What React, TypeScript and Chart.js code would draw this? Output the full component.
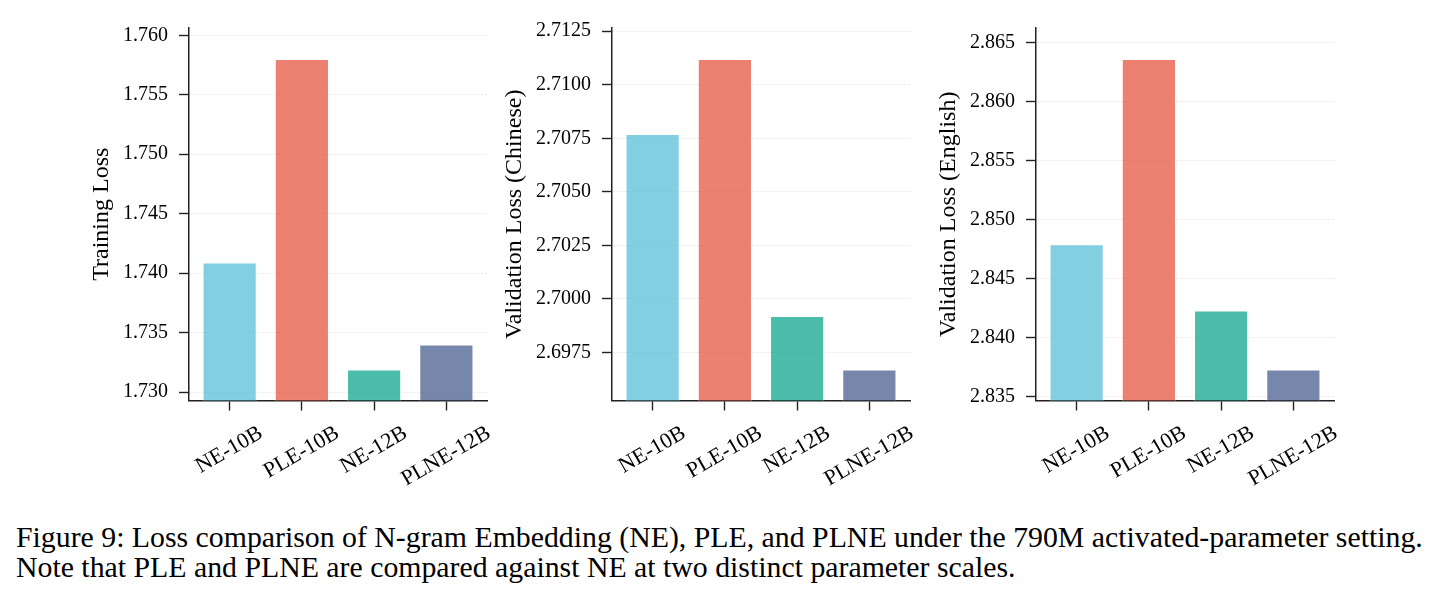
import React, { useEffect, useRef } from "react";
import { Chart, registerables } from "chart.js";

Chart.register(...registerables);

// ---------- data ----------
const categories = ["NE-10B", "PLE-10B", "NE-12B", "PLNE-12B"];

const trainingLoss = [1.7409, 1.758, 1.7319, 1.734];
const valLossChinese = [2.7077, 2.7112, 2.6992, 2.6967];
const valLossEnglish = [2.8479, 2.8636, 2.8423, 2.8373];

const trainingTicks = [1.73, 1.735, 1.74, 1.745, 1.75, 1.755, 1.76];
const chineseTicks = [2.6975, 2.7, 2.7025, 2.705, 2.7075, 2.71, 2.7125];
const englishTicks = [2.835, 2.84, 2.845, 2.85, 2.855, 2.86, 2.865];

const barColors = [
  "rgba(77,187,213,0.7)",
  "rgba(230,75,53,0.7)",
  "rgba(0,160,135,0.7)",
  "rgba(60,84,136,0.7)",
];

const captionLines = [
  "Figure 9: Loss comparison of N-gram Embedding (NE), PLE, and PLNE under the 790M activated-parameter setting.",
  "Note that PLE and PLNE are compared against NE at two distinct parameter scales.",
];

const SERIF = "'Liberation Serif', 'Times New Roman', 'DejaVu Serif', serif";

const CANVAS_W = 440;
const CANVAS_H = 500;
const AXIS_W = 120;
const PLOT_W = 298;
const PLOT_TOP = 28;
const PLOT_BOTTOM = 400.5;

type PanelProps = {
  left: number;
  values: number[];
  ticks: number[];
  decimals: number;
  title: string;
};

function Panel({ left, values, ticks, decimals, title }: PanelProps) {
  const ref = useRef<HTMLCanvasElement>(null);

  useEffect(() => {
    if (!ref.current) return;
    const lo = Math.min(...values);
    const hi = Math.max(...values);
    const r = hi - lo;

    const labelPlugin = {
      id: "customLabels",
      afterDraw(chart: any) {
        const ctx = chart.ctx;
        const xs = chart.scales.x;
        const area = chart.chartArea;
        ctx.save();
        ctx.fillStyle = "#000";
        const fs = 22;
        ctx.font = `${fs}px ${SERIF}`;
        const capH = 0.662 * fs;
        const ang = Math.PI / 6;
        categories.forEach((c, i) => {
          const w = ctx.measureText(c).width;
          const cx = xs.getPixelForValue(i) - 1;
          const cy =
            area.bottom + 23.5 + (w / 2) * Math.sin(ang) + (capH / 2) * Math.cos(ang);
          ctx.save();
          ctx.translate(cx, cy);
          ctx.rotate(-ang);
          ctx.textAlign = "center";
          ctx.textBaseline = "alphabetic";
          ctx.fillText(c, 0, capH / 2);
          ctx.restore();
        });
        // y-axis title
        ctx.font = `20px ${SERIF}`;
        let maxW = 0;
        ticks.forEach((t) => {
          maxW = Math.max(maxW, ctx.measureText(t.toFixed(decimals)).width);
        });
        const bx = area.left - 10 - 11 - maxW - 15;
        ctx.font = `24px ${SERIF}`;
        ctx.save();
        ctx.translate(bx, (area.top + area.bottom) / 2);
        ctx.rotate(-Math.PI / 2);
        ctx.textAlign = "center";
        ctx.textBaseline = "alphabetic";
        ctx.fillText(title, 0, 0);
        ctx.restore();
        ctx.restore();
      },
    };

    const chart = new Chart(ref.current, {
      type: "bar",
      data: {
        datasets: [
          {
            data: values.map((v, i) => ({ x: i, y: v })),
            backgroundColor: barColors,
            borderColor: "rgba(255,255,255,0.6)",
            borderWidth: 1,
            categoryPercentage: 1,
            barPercentage: 0.75,
          } as any,
        ],
      },
      options: {
        animation: false,
        responsive: false,
        devicePixelRatio: 1,
        layout: {
          padding: {
            top: PLOT_TOP,
            right: CANVAS_W - AXIS_W - PLOT_W,
            left: 0,
            bottom: 0,
          },
        },
        plugins: {
          legend: { display: false },
          tooltip: { enabled: false },
        },
        scales: {
          x: {
            type: "linear",
            offset: false,
            min: -0.5625,
            max: 3.5625,
            afterBuildTicks: (scale: any) => {
              scale.ticks = categories.map((_, i) => ({ value: i }));
            },
            afterFit: (scale: any) => {
              scale.height = CANVAS_H - PLOT_BOTTOM;
            },
            ticks: { display: false },
            grid: {
              display: true,
              offset: false,
              drawOnChartArea: false,
              drawTicks: true,
              tickLength: 10,
              tickColor: "#222",
              tickWidth: 1.4,
            },
            border: { display: true, color: "#222", width: 1.5 },
          },
          y: {
            type: "linear",
            min: lo - 0.1 * r,
            max: hi + 0.1 * r,
            afterBuildTicks: (scale: any) => {
              scale.ticks = ticks.map((v) => ({ value: v }));
            },
            afterFit: (scale: any) => {
              scale.width = AXIS_W;
            },
            ticks: {
              color: "#000",
              padding: 11,
              font: { family: SERIF, size: 20 },
              callback: (v: any) => Number(v).toFixed(decimals),
            },
            grid: {
              display: true,
              drawOnChartArea: true,
              drawTicks: true,
              tickLength: 10,
              color: "rgba(0,0,0,0.12)",
              lineWidth: 0.8,
              tickColor: "#222",
              tickWidth: 1.4,
            },
            border: { display: true, color: "#222", width: 1.5, dash: [2, 2] },
          },
        },
      },
      plugins: [labelPlugin],
    });

    return () => chart.destroy();
  }, []);

  return (
    <canvas
      ref={ref}
      width={CANVAS_W}
      height={CANVAS_H}
      style={{
        position: "absolute",
        left: left - AXIS_W,
        top: 0,
        width: CANVAS_W,
        height: CANVAS_H,
      }}
    />
  );
}

export default function App() {
  return (
    <div
      style={{
        position: "absolute",
        left: 0,
        top: 0,
        width: 1440,
        height: 596,
        background: "#fff",
        overflow: "hidden",
      }}
    >
      <Panel left={189} values={trainingLoss} ticks={trainingTicks} decimals={3} title="Training Loss" />
      <Panel left={612} values={valLossChinese} ticks={chineseTicks} decimals={4} title="Validation Loss (Chinese)" />
      <Panel left={1036} values={valLossEnglish} ticks={englishTicks} decimals={3} title="Validation Loss (English)" />
      <div
        style={{
          position: "absolute",
          left: 16,
          top: 522,
          fontFamily: SERIF,
          fontSize: 29.8,
          lineHeight: "30px",
          color: "#000",
          whiteSpace: "nowrap",
        }}
      >
        {captionLines.map((l, i) => (
          <div key={i}>{l}</div>
        ))}
      </div>
    </div>
  );
}
